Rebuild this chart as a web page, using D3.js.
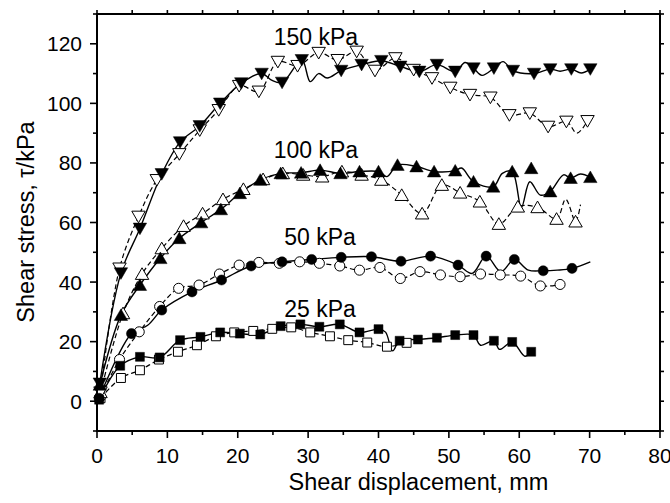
<!DOCTYPE html>
<html><head><meta charset="utf-8">
<script src="https://cdn.jsdelivr.net/npm/d3@7"></script>
<style>
html,body{margin:0;padding:0;background:#fff;}
svg{display:block;font-family:"Liberation Sans",Arial,sans-serif;}
</style></head>
<body><svg id="chart" width="670" height="503"></svg>
<script>
// ---------- data (x = shear displacement mm, y = shear stress kPa) ----------
const xTicks = [0,10,20,30,40,50,60,70,80];
const yTicks = [0,20,40,60,80,100,120];
const seriesLabels = ["150 kPa","100 kPa","50 kPa","25 kPa"];
const labelValues = [[25.1,119.5],[25.1,81.5],[26.6,52.5],[26.6,28.2]];

const s150Closed = [[0.4,6],[3.4,43],[6.1,58],[9.2,76.3],[11.8,87],[14.6,92.4],[17.5,100],[20.5,106.8],[23.4,110],[26.3,107],[29.1,114.6],[34.7,111],[37.6,113],[40.4,114.3],[43.1,112.4],[45.8,110.7],[48.3,113],[50.9,110.7],[53.5,111.8],[56.4,111.8],[59.1,111],[62.1,110],[64.4,111.5],[67.4,111.5],[70.1,111.5]];
const s150ClosedExtra = [[24.8,107.8],[30.3,107.3],[31.5,110],[32.7,108.5],[52.3,113.7],[54.7,109.4],[57.7,114],[65.8,110.8],[68.8,110.2]];
const s150Open = [[0.5,3],[3.2,44.6],[5.9,62],[8.5,74.3],[11.7,83],[14.6,91],[17.3,97.8],[20.2,105.9],[23,104],[25.7,114],[28.5,112.6],[31.5,117],[34.2,114.6],[36.9,117.4],[39.5,111],[42.4,115.2],[45,111.3],[47.6,108.5],[50.2,105.3],[53,102.9],[55.9,102],[58.6,96.1],[61.5,96.7],[64.1,92.2],[66.7,93.9],[69.7,94.1]];
const s150OpenExtra = [[68.2,90]];

const s100Closed = [[0.4,5.5],[3.4,28.9],[6.1,39],[9,48],[11.7,54.7],[14.8,60],[17.6,64.4],[20.3,69.8],[23.2,74.3],[26.1,76.5],[29,76.7],[31.7,77.6],[34.6,76.5],[37.3,77.1],[40,77.1],[42.7,79.3],[45.4,78.8],[47.9,77.1],[50.9,77.4],[53.5,73.7],[56.3,72],[59,77.1],[64.4,70.4],[67.3,74.9],[70.1,75.2]];
const s100ClosedOffLine = [[61.7,78.2]];
const s100ClosedExtra = [[41.2,75.4],[51.8,78.3],[57.6,76.5],[60.3,65],[61.5,73.7],[63,69.2],[66.3,76],[68.7,76.3]];
const s100Open = [[0.5,3],[3.7,29.5],[6.4,42.7],[9.2,51.3],[12.3,58.8],[15,63],[17.9,67.8],[20.8,71.2],[23.6,74.5],[26.4,76.5],[29.3,76],[32,75.4],[34.8,77.1],[37.6,76],[40.4,74.3],[43.3,69.2],[46.2,63],[49,72.6],[51.6,70],[54.4,67],[57.1,59.5],[59.8,65.3],[62.6,65.1],[65.3,61.2],[68,60.3]];
const s100OpenExtra = [[66.6,67.8],[68.7,66]];

const s50Closed = [[0.3,1],[4.9,22.7],[9.2,30.6],[13.5,36.7],[17.7,40.7],[21.9,45.4],[26.3,46.8],[30.5,47.6],[34.7,48.3],[39,48.5],[43.2,47],[47.4,48.7],[51.3,45.7],[55.3,48.7],[59.3,47.6],[63.4,43.8],[67.5,44.6]];
const s50ClosedExtra = [[7.2,25.5],[53.3,42.9],[57.4,43.5],[61.3,44],[65.4,44],[70.1,46.8]];
const s50Open = [[0.5,1.5],[3.2,14],[6,23.3],[8.9,31.8],[11.6,37.9],[14.5,39],[17.4,42.7],[20.2,45.7],[23,46.6],[25.9,46.3],[28.8,46.8],[31.6,46.3],[34.5,45.4],[37.3,44],[40.2,44.9],[43.1,41.2],[45.9,43.5],[48.8,42.4],[51.6,41.8],[54.5,42.7],[57.3,42.4],[60.2,42],[63,38.7],[65.8,39.2]];
const s50OpenExtra = [];

const s25Closed = [[0.3,0.5],[3.3,11.9],[6.1,14.9],[8.9,14.7],[11.8,20.5],[14.7,21.6],[17.5,23.1],[20.3,22.7],[23.2,22.4],[26.1,25.2],[28.9,25.8],[31.6,25],[34.5,25.8],[37.3,23.1],[40,24.2],[43,20.3],[45.6,20.7],[48.3,21.3],[50.9,22.2],[53.5,22.2],[56.4,20.3],[59,19.9],[61.7,16.6]];
const s25ClosedExtra = [[41.0,23.2],[42.0,16.9],[54.5,18.8],[57.2,17.4],[60.8,15.1]];
const s25Open = [[0.5,1],[3.4,7.8],[6.1,10.4],[8.8,14],[11.5,16.6],[14.2,18.8],[16.9,21.8],[19.5,23.1],[22.2,23.6],[24.9,24.3],[27.6,24.8],[30.3,23.1],[33.1,21.8],[35.7,20.5],[38.4,19.7],[41.2,18.3],[44,19.6]];
const s25OpenExtra = [];

// ---------- layout ----------
const svg = d3.select("#chart");
const x = d3.scaleLinear().domain([0,80]).range([97,660]);
const y = d3.scaleLinear().domain([-10,130]).range([431,14]);

const series = [
  {marks:s25Open, extra:s25OpenExtra, sym:d3.symbolSquare, filled:false, rot:0, size:80},
  {marks:s50Open, extra:s50OpenExtra, sym:d3.symbolCircle, filled:false, rot:0, size:80},
  {marks:s100Open, extra:s100OpenExtra, sym:d3.symbolTriangle, filled:false, rot:0, size:78},
  {marks:s150Open, extra:s150OpenExtra, sym:d3.symbolTriangle, filled:false, rot:180, size:78},
  {marks:s25Closed, extra:s25ClosedExtra, sym:d3.symbolSquare, filled:true, rot:0, size:80},
  {marks:s50Closed, extra:s50ClosedExtra, sym:d3.symbolCircle, filled:true, rot:0, size:80},
  {marks:s100Closed, extra:s100ClosedExtra, off:s100ClosedOffLine, sym:d3.symbolTriangle, filled:true, rot:0, size:78},
  {marks:s150Closed, extra:s150ClosedExtra, sym:d3.symbolTriangle, filled:true, rot:180, size:78}
];

const line = d3.line().x(d=>x(d[0])).y(d=>y(d[1])).curve(d3.curveCatmullRom.alpha(0.5));

// lines
series.forEach(s=>{
  const pts = s.marks.concat(s.extra).sort((a,b)=>a[0]-b[0]);
  svg.append("path").attr("d", line(pts))
    .attr("fill","none").attr("stroke","#000")
    .attr("stroke-width", s.filled ? 1.4 : 1.2)
    .attr("stroke-dasharray", s.filled ? null : "5,3");
});
// markers
series.forEach(s=>{
  const all = s.marks.concat(s.off || []);
  const sym = d3.symbol().type(s.sym).size(s.size);
  svg.append("g").selectAll("path").data(all).join("path")
    .attr("d", sym)
    .attr("transform", d=>{
      const dy = s.sym===d3.symbolTriangle ? (s.rot ? -1.5 : 1.5) : 0;
      return `translate(${x(d[0])},${y(d[1])+dy}) rotate(${s.rot})`;
    })
    .attr("fill", s.filled ? "#000" : "#fff")
    .attr("stroke","#000").attr("stroke-width", s.filled ? 0.5 : 1);
});

// ---------- axes frame ----------
const ax = svg.append("g").attr("stroke","#000").attr("stroke-width",2).attr("fill","none");
ax.append("rect").attr("x",x(0)).attr("y",y(130)).attr("width",x(80)-x(0)).attr("height",y(-10)-y(130));

const tickG = svg.append("g").attr("stroke","#000").attr("stroke-width",1.6);
// bottom / top ticks
d3.range(0,81,5).forEach(v=>{
  const len = v%10===0 ? 7 : 4;
  tickG.append("line").attr("x1",x(v)).attr("x2",x(v)).attr("y1",y(-10)).attr("y2",y(-10)+len);
  tickG.append("line").attr("x1",x(v)).attr("x2",x(v)).attr("y1",y(130)).attr("y2",y(130)-4);
});
// left / right ticks
d3.range(-10,131,10).forEach(v=>{
  const len = v%20===0 ? 7 : 4;
  tickG.append("line").attr("x1",x(0)).attr("x2",x(0)-len).attr("y1",y(v)).attr("y2",y(v));
  tickG.append("line").attr("x1",x(80)).attr("x2",x(80)+4).attr("y1",y(v)).attr("y2",y(v));
});

// tick labels
svg.append("g").selectAll("text").data(xTicks).join("text")
  .attr("x",d=>x(d)).attr("y",463).attr("text-anchor","middle")
  .attr("font-size",21).attr("fill","#000").text(d=>d);
svg.append("g").selectAll("text").data(yTicks).join("text")
  .attr("x",82).attr("y",d=>y(d)).attr("dy","0.36em").attr("text-anchor","end")
  .attr("font-size",21).attr("fill","#000").text(d=>d);

// axis titles
svg.append("text").attr("x",418.5).attr("y",490).attr("text-anchor","middle")
  .attr("font-size",23.5).attr("fill","#000").text("Shear displacement, mm");
svg.append("text").attr("transform","translate(34,222) rotate(-90)").attr("text-anchor","middle")
  .attr("font-size",23.5).attr("fill","#000").text("Shear stress, \u03C4/kPa");

// series labels
svg.append("g").selectAll("text").data(seriesLabels).join("text")
  .attr("x",(d,i)=>x(labelValues[i][0])).attr("y",(d,i)=>y(labelValues[i][1]))
  .attr("text-anchor","start").attr("font-size",23).attr("fill","#000").text(d=>d);
</script>
</body></html>
